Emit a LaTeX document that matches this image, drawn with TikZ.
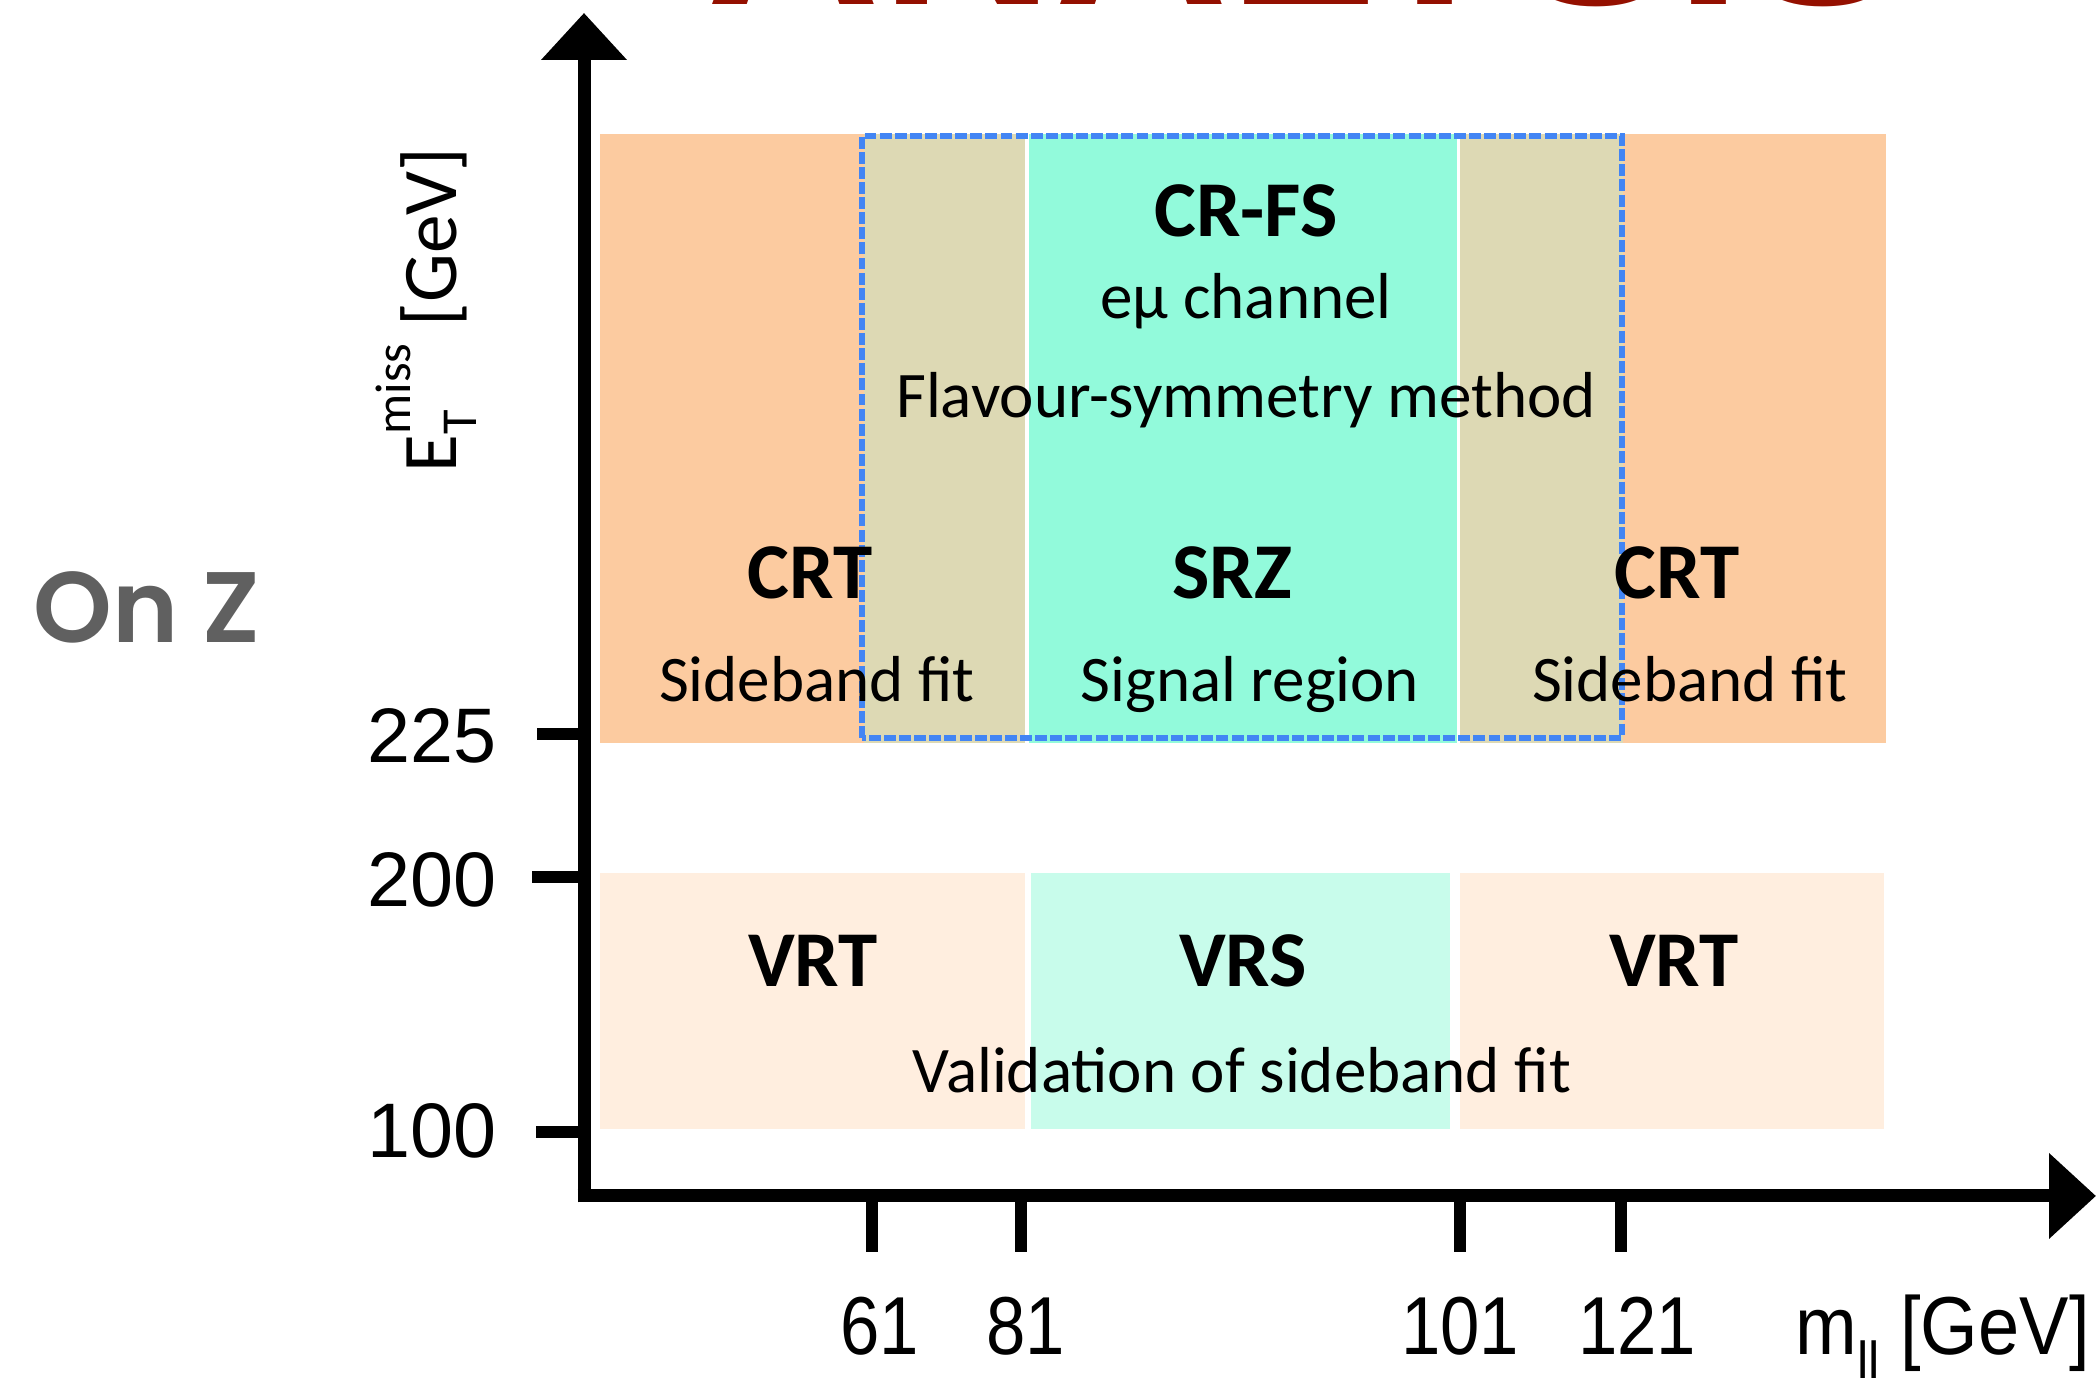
\documentclass[tikz,border=0pt]{standalone}
\usepackage{fontspec}
\setmainfont{Carlito}
\newfontfamily\tickfont{Liberation Sans}
\newfontfamily\onzfont{Poppins SemiBold}
\usetikzlibrary{arrows.meta}

\definecolor{crtpeach}{RGB}{252,203,160}
\definecolor{overlaptan}{RGB}{221,217,180}
\definecolor{srzaqua}{RGB}{146,250,219}
\definecolor{vrtpeach}{RGB}{255,238,223}
\definecolor{vrsaqua}{RGB}{200,252,235}
\definecolor{fsblue}{RGB}{66,133,244}
\definecolor{onzgray}{RGB}{96,96,96}
\definecolor{titlered}{RGB}{148,16,0}

% axis titles with stacked sub- and superscripts in the text font
\newcommand\etmisslab{E\rlap{\raisebox{-0.27em}{\fontsize{14.3}{14}\selectfont T}}%
  \raisebox{0.59em}{\fontsize{14.3}{14}\selectfont miss}}
\newcommand\mlllab{m\raisebox{-0.32em}{\fontsize{16}{16}\selectfont ll}}
\newcommand\xnum[1]{\scalebox{0.86}[1]{#1}}

\begin{document}
\begin{tikzpicture}[
    axisline/.style={line width=3.7pt, draw=black,
                     -{Triangle[length=4.7mm, width=8.3mm]}},
    tickline/.style={line width=3.6pt, draw=black},
    fsbox/.style={draw=fsblue, line width=1.7pt,
                  dash pattern=on 3.4pt off 0.9pt},
    regionbold/.style={font=\fontsize{22.5}{26}\selectfont\bfseries,
                       anchor=base, inner sep=0pt},
    regiontext/.style={font=\fontsize{18.5}{22}\selectfont,
                       anchor=base, inner sep=0pt},
    yticklab/.style={font=\tickfont\fontsize{22}{26}\selectfont,
                     anchor=base east, inner sep=0pt},
    xticklab/.style={font=\tickfont\fontsize{23.4}{26}\selectfont,
                     anchor=base, inner sep=0pt}]

  \useasboundingbox (0,0) rectangle (21,13.78);

  % ---- title, cut by the top edge
  \node[font=\tickfont\bfseries\fontsize{68.6}{70}\selectfont, text=titlered,
        anchor=base west, inner sep=0pt] (title) at (7.06,13.73) {ANALYSIS};

  % ---- upper band: CRT | overlap | SRZ | overlap | CRT
  \fill[crtpeach]   (6.00,6.35) rectangle (8.64,12.44);
  \fill[overlaptan] (8.64,6.35) rectangle (10.25,12.44);
  \fill[srzaqua]    (10.29,6.35) rectangle (14.57,12.44);
  \fill[overlaptan] (14.60,6.35) rectangle (16.23,12.44);
  \fill[crtpeach]   (16.23,6.35) rectangle (18.86,12.44);

  % ---- lower band: VRT | VRS | VRT
  \fill[vrtpeach] (6.00,2.49) rectangle (10.25,5.05);
  \fill[vrsaqua]  (10.31,2.49) rectangle (14.50,5.05);
  \fill[vrtpeach] (14.60,2.49) rectangle (18.84,5.05);

  % ---- the eμ control region sits over the middle
  \draw[fsbox] (8.62,6.40) rectangle (16.22,12.42);

  % ---- labels inside the regions
  \node[regionbold] (crfs) at (12.46,11.41) {CR-FS};
  \node[regiontext] (emu)  at (12.46,10.59) {eμ channel};
  \node[regiontext] (fsm)  at (12.46,9.60)  {Flavour-symmetry method};

  \node[regionbold] (crtl) at (8.10,7.79)  {CRT};
  \node[regionbold] (srz)  at (12.32,7.79) {SRZ};
  \node[regionbold] (crtr) at (16.77,7.79) {CRT};
  \node[regiontext] (sbl)  at (8.17,6.76)  {Sideband fit};
  \node[regiontext] (sig)  at (12.50,6.76) {Signal region};
  \node[regiontext] (sbr)  at (16.90,6.76) {Sideband fit};

  \node[regionbold] (vrtl)  at (8.13,3.91)  {VRT};
  \node[regionbold] (vrs)   at (12.43,3.91) {VRS};
  \node[regionbold] (vrtr)  at (16.74,3.91) {VRT};
  \node[regiontext] (valid) at (12.42,2.85) {Validation of sideband fit};

  % ---- axes
  \coordinate (o)    at (5.84,1.82);
  \coordinate (ytip) at (5.84,13.65);
  \coordinate (xtip) at (20.96,1.82);
  \draw[axisline] ([yshift=-0.065cm]o) -- (ytip);
  \draw[axisline] ([xshift=-0.065cm]o) -- (xtip);

  % ---- ticks and their values
  \draw[tickline] (5.37,6.44) -- (o |- 0,6.44);
  \draw[tickline] (5.32,5.01) -- (o |- 0,5.01);
  \draw[tickline] (5.36,2.46) -- (o |- 0,2.46);
  \node[yticklab] (y225) at (4.97,6.15) {225};
  \node[yticklab] (y200) at (4.97,4.71) {200};
  \node[yticklab] (y100) at (4.97,2.20) {100};

  \draw[tickline] (o -| 8.72,0) -- (8.72,1.26);
  \draw[tickline] (o -| 10.21,0) -- (10.21,1.26);
  \draw[tickline] (o -| 14.60,0) -- (14.60,1.26);
  \draw[tickline] (o -| 16.21,0) -- (16.21,1.26);
  \node[xticklab] (x61)  at (8.80,0.23)  {\xnum{61}};
  \node[xticklab] (x81)  at (10.26,0.23) {\xnum{81}};
  \node[xticklab] (x101) at (14.60,0.23) {\xnum{101}};
  \node[xticklab] (x121) at (16.37,0.23) {\xnum{121}};

  % ---- axis titles and the side label
  \node[xticklab, anchor=base west] (xlab) at (17.95,0.23)
    {\scalebox{0.9}[1]{\mlllab\ [GeV]}};
  \node[font=\fontsize{22}{26}\selectfont, rotate=90, anchor=base,
        inner sep=0pt] (ylab) at (4.56,10.68) {\etmisslab\ [GeV]};
  \node[font=\onzfont\fontsize{28.5}{30}\selectfont, text=onzgray,
        anchor=base west, inner sep=0pt] (onz) at (0.33,7.35) {On Z};
\end{tikzpicture}
\end{document}
